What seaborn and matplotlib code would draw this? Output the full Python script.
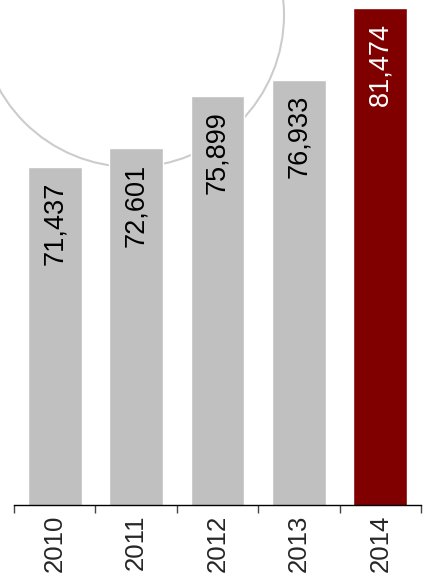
import matplotlib
matplotlib.use("Agg")
import matplotlib.pyplot as plt
from matplotlib.patches import Circle
import seaborn as sns
import pandas as pd

years = ["2010", "2011", "2012", "2013", "2014"]
values = [71437, 72601, 75899, 76933, 81474]
bar_colors = ["#c0c0c0", "#c0c0c0", "#c0c0c0", "#c0c0c0", "#800000"]
text_colors = ["black", "black", "black", "black", "white"]

sns.set_theme(style="white")
plt.rcParams["font.family"] = ["Liberation Sans", "DejaVu Sans"]

W, H = 423, 574
fig = plt.figure(figsize=(W / 100, H / 100), dpi=100)

# decorative ring behind the bars, drawn in pixel space
bg = fig.add_axes([0, 0, 1, 1], zorder=0)
bg.set_xlim(0, W)
bg.set_ylim(H, 0)
bg.axis("off")
bg.add_patch(Circle((132, 15), 152, fill=False, ec="#cccccc", lw=1.5))

left, right, bottom_px = 14, 421, 505
ax = fig.add_axes([left / W, (H - bottom_px) / H, (right - left) / W, bottom_px / H], zorder=1)
ax.patch.set_alpha(0)

df = pd.DataFrame({"year": years, "value": values})
sns.barplot(data=df, x="year", y="value", hue="year", palette=bar_colors,
            width=0.66, saturation=1, legend=False, ax=ax)

ax.set_ylim(50000, 82000)
ax.set_xlim(-0.5, len(years) - 0.5)

for i, (v, c) in enumerate(zip(values, text_colors)):
    ax.annotate(f"{v:,}", xy=(i, v), xytext=(0, -15), textcoords="offset pixels",
                rotation=90, ha="center", va="top", fontsize=19.5, color=c)

for s in ["left", "right", "top"]:
    ax.spines[s].set_visible(False)
ax.spines["bottom"].set_color("black")
ax.spines["bottom"].set_linewidth(1)
ax.set_yticks([])
ax.set_xlabel("")
ax.set_ylabel("")

ax.set_xticks(range(len(years)))
ax.set_xticklabels(years, rotation=90, fontsize=18.5, va="top")
ax.set_xticks([i - 0.5 for i in range(len(years) + 1)], minor=True)
ax.tick_params(axis="x", which="major", length=0, pad=7)
ax.tick_params(axis="x", which="minor", bottom=True, length=5.5, width=1, color="#444444", direction="out")

fig.savefig("out.png", dpi=100)
